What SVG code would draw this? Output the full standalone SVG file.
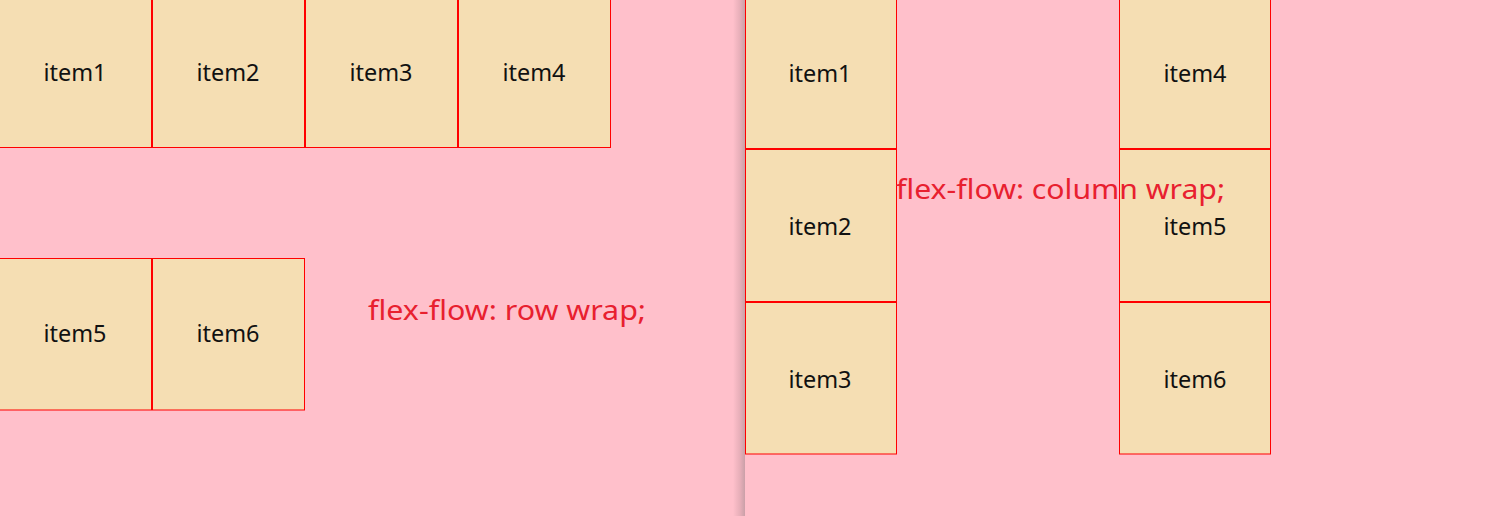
<svg xmlns="http://www.w3.org/2000/svg" width="1491" height="516" viewBox="0 0 1491 516">
<defs>
<linearGradient id="shadow" x1="0" x2="1" y1="0" y2="0">
<stop offset="0" stop-color="#ffc0cb"/>
<stop offset="0.6" stop-color="#e6aeb8"/>
<stop offset="1" stop-color="#c9a0a8"/>
</linearGradient>
<style>
.bg{fill:#ffc0cb}
.box{fill:#f5deb3;stroke:#ff0000;stroke-width:1}
.lbl{font-family:"Noto Sans","Open Sans",sans-serif;font-size:23px;fill:#111;text-anchor:middle}
.note{font-family:"Noto Sans","Open Sans",sans-serif;font-size:28px;fill:#e8202f}
</style>
</defs>
<rect class="bg" x="0" y="0" width="1491" height="516"/>
<rect x="733" y="0" width="12" height="516" fill="url(#shadow)"/>
<g id="left-panel">
<g id="l-item1"><rect class="box" x="-1.5" y="-2" width="153" height="149.5"/><text class="lbl" x="75" y="81" textLength="63" lengthAdjust="spacingAndGlyphs">item1</text></g>
<g id="l-item2"><rect class="box" x="152.5" y="-2" width="152" height="149.5"/><text class="lbl" x="228" y="81" textLength="63" lengthAdjust="spacingAndGlyphs">item2</text></g>
<g id="l-item3"><rect class="box" x="305.5" y="-2" width="152" height="149.5"/><text class="lbl" x="381" y="81" textLength="63" lengthAdjust="spacingAndGlyphs">item3</text></g>
<g id="l-item4"><rect class="box" x="458.5" y="-2" width="152" height="149.5"/><text class="lbl" x="534" y="81" textLength="63" lengthAdjust="spacingAndGlyphs">item4</text></g>
<g id="l-item5"><rect class="box" x="-1.5" y="258.5" width="153" height="151.5"/><text class="lbl" x="75" y="342" textLength="63" lengthAdjust="spacingAndGlyphs">item5</text></g>
<g id="l-item6"><rect class="box" x="152.5" y="258.5" width="152" height="151.5"/><text class="lbl" x="228" y="342" textLength="63" lengthAdjust="spacingAndGlyphs">item6</text></g>
<text id="l-note" class="note" x="368" y="320" textLength="278" lengthAdjust="spacingAndGlyphs">flex-flow: row wrap;</text>
</g>
<g id="right-panel">
<g id="r-item1"><rect class="box" x="745.5" y="-2" width="151" height="150.5"/><text class="lbl" x="820" y="82" textLength="63" lengthAdjust="spacingAndGlyphs">item1</text></g>
<g id="r-item2"><rect class="box" x="745.5" y="149.5" width="151" height="152"/><text class="lbl" x="820" y="235" textLength="63" lengthAdjust="spacingAndGlyphs">item2</text></g>
<g id="r-item3"><rect class="box" x="745.5" y="302.5" width="151" height="151.5"/><text class="lbl" x="820" y="388" textLength="63" lengthAdjust="spacingAndGlyphs">item3</text></g>
<g id="r-item4"><rect class="box" x="1119.5" y="-2" width="151" height="150.5"/><text class="lbl" x="1195" y="82" textLength="63" lengthAdjust="spacingAndGlyphs">item4</text></g>
<g id="r-item5"><rect class="box" x="1119.5" y="149.5" width="151" height="152"/><text class="lbl" x="1195" y="235" textLength="63" lengthAdjust="spacingAndGlyphs">item5</text></g>
<g id="r-item6"><rect class="box" x="1119.5" y="302.5" width="151" height="151.5"/><text class="lbl" x="1195" y="388" textLength="63" lengthAdjust="spacingAndGlyphs">item6</text></g>
<text id="r-note" class="note" x="896" y="199" textLength="329" lengthAdjust="spacingAndGlyphs">flex-flow: column wrap;</text>
</g>
<g id="connectors"/>
</svg>
